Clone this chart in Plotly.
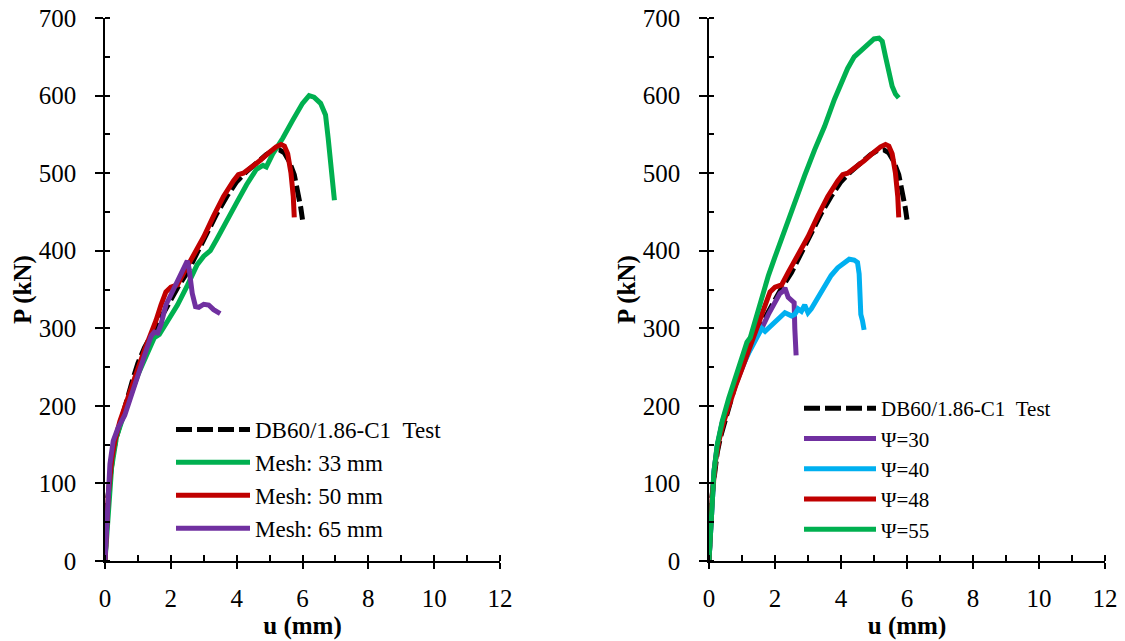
import plotly.graph_objects as go

# ---------------- data ----------------
test_u = [0, 0.03, 0.08, 0.15, 0.25, 0.35, 0.5, 0.65, 0.85, 1.0, 1.2, 1.4, 1.6, 1.8, 2.0, 2.2, 2.5,
          2.8, 3.1, 3.4, 3.7, 4.0, 4.3, 4.6, 4.9, 5.1, 5.3, 5.45, 5.6, 5.75, 5.85, 5.95, 6.0]
test_P = [0, 40, 80, 105, 140, 160, 185, 205, 235, 255, 275, 290, 305, 322, 338, 352, 372,
          398, 423, 448, 470, 489, 502, 513, 524, 529, 530, 526, 515, 498, 480, 455, 440]

mesh50_u = [0, 0.05, 0.1, 0.2, 0.3, 0.45, 0.6, 0.8, 1.0, 1.2, 1.4, 1.55, 1.7, 1.85, 2.0, 2.2, 2.4,
            2.7, 3.0, 3.3, 3.6, 3.9, 4.05, 4.2, 4.4, 4.7, 5.0, 5.2, 5.35, 5.45, 5.55, 5.65, 5.72, 5.75]
mesh50_P = [0, 40, 85, 130, 155, 180, 200, 225, 248, 272, 293, 310, 330, 347, 353, 356, 372,
            395, 418, 445, 470, 490, 498, 500, 506, 516, 527, 534, 537, 535, 525, 500, 470, 443]

mesh33_u = [0, 0.05, 0.1, 0.2, 0.35, 0.5, 0.7, 1.0, 1.3, 1.5, 1.65, 1.8, 2.0, 2.2, 2.5, 2.8, 3.0,
            3.2, 3.4, 3.7, 4.0, 4.3, 4.6, 4.8, 4.9, 5.1, 5.4, 5.7, 6.0, 6.2, 6.35, 6.55, 6.7, 6.78,
            6.85, 6.92, 6.97]
mesh33_P = [0, 35, 75, 120, 160, 180, 205, 240, 270, 288, 292, 302, 315, 330, 355, 382, 393,
            400, 415, 440, 462, 485, 505, 510, 508, 525, 545, 568, 590, 600, 598, 590, 575, 545,
            510, 480, 465]

mesh65_u = [0, 0.03, 0.08, 0.15, 0.25, 0.4, 0.6, 0.8, 1.0, 1.2, 1.4, 1.5, 1.6, 1.7, 1.85, 2.0,
            2.2, 2.4, 2.5, 2.55, 2.65, 2.75, 2.85, 3.0, 3.15, 3.3, 3.5]
mesh65_P = [0, 30, 80, 125, 155, 172, 188, 215, 240, 265, 290, 295, 294, 305, 330, 343,
            358, 375, 387, 378, 345, 328, 327, 331, 330, 324, 319]

psi30_u = [0, 0.03, 0.08, 0.15, 0.25, 0.4, 0.6, 0.8, 1.0, 1.2, 1.4, 1.6, 1.8, 2.0, 2.15, 2.25,
           2.3, 2.4, 2.5, 2.58, 2.6, 2.62, 2.64]
psi30_P = [0, 30, 75, 115, 148, 178, 205, 228, 250, 270, 288, 300, 318, 335, 345, 348,
           352, 340, 336, 333, 300, 275, 265]

psi40_u = [0, 0.03, 0.08, 0.15, 0.25, 0.4, 0.6, 0.8, 1.0, 1.2, 1.4, 1.6, 1.7, 1.8, 1.95, 2.1,
           2.3, 2.5, 2.6, 2.7, 2.8, 2.9, 3.0, 3.1, 3.3, 3.5, 3.7, 3.9, 4.1, 4.25, 4.4, 4.5, 4.55,
           4.57, 4.6, 4.65, 4.7]
psi40_P = [0, 30, 75, 115, 148, 178, 205, 228, 250, 268, 285, 300, 296, 300, 308, 312,
           320, 316, 318, 325, 322, 330, 320, 325, 340, 355, 368, 378, 385, 389, 388, 385, 370,
           330, 318, 310, 298]

psi48_u = mesh50_u
psi48_P = mesh50_P

psi55_u = [0, 0.03, 0.08, 0.15, 0.25, 0.4, 0.6, 0.8, 1.0, 1.15, 1.25, 1.4, 1.6, 1.8, 2.0, 2.3,
           2.6, 2.9, 3.2, 3.5, 3.8, 4.0, 4.2, 4.4, 4.7, 5.0, 5.15, 5.25, 5.35, 5.45, 5.55, 5.65, 5.75]
psi55_P = [0, 30, 70, 115, 150, 180, 210, 238, 262, 282, 288, 310, 340, 368, 392, 428,
           462, 497, 530, 560, 595, 615, 635, 650, 662, 673, 674, 670, 650, 628, 612, 602, 597]

left_names = ["DB60/1.86-C1\u00a0\u00a0Test", "Mesh: 33 mm", "Mesh: 50 mm", "Mesh: 65 mm"]
right_names = ["DB60/1.86-C1\u00a0\u00a0Test", "\u03a8=30", "\u03a8=40", "\u03a8=48", "\u03a8=55"]

x_ticks = [0, 2, 4, 6, 8, 10, 12]
y_ticks = [0, 100, 200, 300, 400, 500, 600, 700]

BLACK = "#000000"
GREEN = "#00B050"
RED = "#C00000"
PURPLE = "#7030A0"
CYAN = "#00B0F0"
FONT = "Liberation Serif"
LW = 5
DASH = "16px,5px"
TF = 25

fig = go.Figure()

left = [(test_u, test_P, BLACK, DASH), (mesh33_u, mesh33_P, GREEN, "solid"),
        (mesh50_u, mesh50_P, RED, "solid"), (mesh65_u, mesh65_P, PURPLE, "solid")]
for i, (u, p, c, d) in enumerate(left):
    fig.add_trace(go.Scatter(x=u, y=p, mode="lines", name=left_names[i],
                             line=dict(color=c, width=LW, dash=d),
                             xaxis="x", yaxis="y", legend="legend"))

right = [(test_u, test_P, BLACK, DASH), (psi30_u, psi30_P, PURPLE, "solid"),
         (psi40_u, psi40_P, CYAN, "solid"), (psi48_u, psi48_P, RED, "solid"),
         (psi55_u, psi55_P, GREEN, "solid")]
for i, (u, p, c, d) in enumerate(right):
    fig.add_trace(go.Scatter(x=u, y=p, mode="lines", name=right_names[i],
                             line=dict(color=c, width=LW, dash=d),
                             xaxis="x2", yaxis="y2", legend="legend2"))

W, H = 1125, 641
ydom = [(H - 561) / H, (H - 18) / H]
xdomL = [105 / W, 500 / W]
xdomR = [709 / W, 1105 / W]


def xaxis(dom, anchor):
    return dict(domain=dom, anchor=anchor, range=[0, 12], tickvals=x_ticks, automargin=False,
                showline=True, linecolor=BLACK, linewidth=1.5, showgrid=False, zeroline=False,
                ticks="outside", ticklen=6, tickwidth=1.5, tickcolor=BLACK,
                ticklabelstandoff=8,
                minor=dict(dtick=1, ticks="inside", ticklen=6, tickwidth=1.5, tickcolor=BLACK),
                tickfont=dict(family=FONT, size=TF, color=BLACK),
                title=dict(text="<b>u (mm)</b>", font=dict(family=FONT, size=TF, color=BLACK),
                           standoff=4))


def yaxis(anchor):
    return dict(domain=ydom, anchor=anchor, range=[0, 700], tickvals=y_ticks, automargin=False,
                showline=True, linecolor=BLACK, linewidth=1.5, showgrid=False, zeroline=False,
                ticks="outside", ticklen=8, tickwidth=1.5, tickcolor=BLACK,
                ticklabelstandoff=14,
                minor=dict(dtick=50, ticks="inside", ticklen=5, tickwidth=1.5, tickcolor=BLACK),
                tickfont=dict(family=FONT, size=TF, color=BLACK),
                title=dict(text="<b>P (kN)</b>", font=dict(family=FONT, size=TF, color=BLACK),
                           standoff=0))


def x_inner(dom, anchor, over):
    # inner half of the crossing major ticks
    return dict(domain=dom, anchor=anchor, overlaying=over, range=[0, 12], tickvals=x_ticks,
                automargin=False, showline=False, showgrid=False, zeroline=False,
                showticklabels=False, ticks="inside", ticklen=6, tickwidth=1.5, tickcolor=BLACK)


def y_inner(anchor, over):
    return dict(domain=ydom, anchor=anchor, overlaying=over, range=[0, 700], tickvals=y_ticks,
                automargin=False, showline=False, showgrid=False, zeroline=False,
                showticklabels=False, ticks="inside", ticklen=7, tickwidth=1.5, tickcolor=BLACK)


fig.update_layout(
    width=W, height=H,
    margin=dict(l=0, r=0, t=0, b=0),
    paper_bgcolor="white", plot_bgcolor="white",
    xaxis=xaxis(xdomL, "y"),
    yaxis=yaxis("x"),
    xaxis2=xaxis(xdomR, "y2"),
    yaxis2=yaxis("x2"),
    xaxis3=x_inner(xdomL, "y", "x"),
    yaxis3=y_inner("x", "y"),
    xaxis4=x_inner(xdomR, "y2", "x2"),
    yaxis4=y_inner("x2", "y2"),
    legend=dict(x=171 / W, y=1 - 408 / H, font=dict(family=FONT, size=23, color=BLACK),
                bgcolor="rgba(0,0,0,0)", xanchor="left", yanchor="top", itemwidth=74,
                traceorder="normal"),
    legend2=dict(x=799 / W, y=1 - 388 / H, font=dict(family=FONT, size=21, color=BLACK),
                 bgcolor="rgba(0,0,0,0)", xanchor="left", yanchor="top", itemwidth=72,
                 traceorder="normal"),
)

fig.write_html("out.html")
